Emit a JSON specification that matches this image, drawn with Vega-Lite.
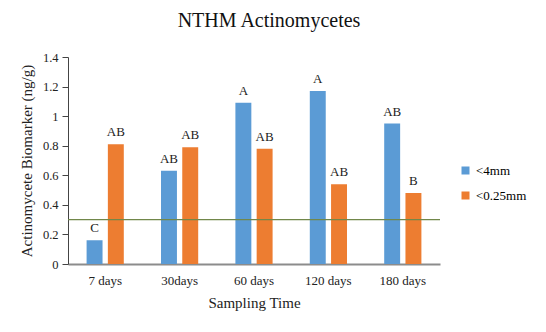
{
  "$schema": "https://vega.github.io/schema/vega-lite/v6.json",
  "width": 372,
  "height": 207,
  "autosize": {"type": "none"},
  "padding": {"left": 68, "top": 57, "right": 106, "bottom": 68},
  "background": "white",
  "config": {
    "font": "Liberation Serif",
    "view": {"stroke": null},
    "axis": {"labelFont": "Liberation Serif", "titleFont": "Liberation Serif", "labelColor": "#222", "titleColor": "#222", "titleFontWeight": "normal", "grid": false}
  },
  "title": {"text": "NTHM Actinomycetes", "fontSize": 20, "font": "Liberation Serif", "fontWeight": "normal", "color": "#111", "offset": 20, "anchor": "middle", "dx": 15},
  "data": {
    "values": [
      {"time": "7 days", "size": "<4mm", "value": 0.16, "sig": "C"},
      {"time": "7 days", "size": "<0.25mm", "value": 0.81, "sig": "AB"},
      {"time": "30days", "size": "<4mm", "value": 0.63, "sig": "AB"},
      {"time": "30days", "size": "<0.25mm", "value": 0.79, "sig": "AB"},
      {"time": "60 days", "size": "<4mm", "value": 1.09, "sig": "A"},
      {"time": "60 days", "size": "<0.25mm", "value": 0.78, "sig": "AB"},
      {"time": "120 days", "size": "<4mm", "value": 1.17, "sig": "A"},
      {"time": "120 days", "size": "<0.25mm", "value": 0.54, "sig": "AB"},
      {"time": "180 days", "size": "<4mm", "value": 0.95, "sig": "AB"},
      {"time": "180 days", "size": "<0.25mm", "value": 0.48, "sig": "B"}
    ]
  },
  "encoding": {
    "x": {"field": "time", "type": "nominal", "sort": null,
      "scale": {"paddingInner": 0.5, "paddingOuter": 0.25},
      "axis": {"title": "Sampling Time", "labelAngle": 0, "labelFontSize": 13, "titleFontSize": 15, "ticks": false, "labelPadding": 10, "titlePadding": 8, "domainColor": "#8c8c8c", "domainWidth": 2}},
    "xOffset": {"field": "size", "type": "nominal", "sort": ["<4mm", "<0.25mm"], "scale": {"paddingInner": 0.25}},
    "y": {"field": "value", "type": "quantitative", "scale": {"domain": [0, 1.4], "nice": false},
      "axis": {"title": "Actinomycete Biomarker (ng/g)", "values": [0, 0.2, 0.4, 0.6, 0.8, 1, 1.2, 1.4], "format": "~g", "labelOverlap": false, "labelFontSize": 12.5, "titleFontSize": 15, "tickSize": 6, "tickColor": "#444", "domainColor": "#444", "labelPadding": 4, "titlePadding": 8}}
  },
  "layer": [
    {
      "mark": {"type": "bar"},
      "encoding": {
        "color": {"field": "size", "type": "nominal", "sort": ["<4mm", "<0.25mm"],
          "scale": {"domain": ["<4mm", "<0.25mm"], "range": ["#5B9BD5", "#ED7D31"]},
          "legend": {"title": null, "orient": "none", "legendX": 391, "legendY": 107, "symbolType": "square", "symbolSize": 64, "symbolStrokeWidth": 0, "labelFontSize": 13, "labelFont": "Liberation Serif", "rowPadding": 11, "padding": 0}}
      }
    },
    {
      "mark": {"type": "text", "baseline": "bottom", "dy": -5, "fontSize": 13, "font": "Liberation Serif", "color": "#222"},
      "encoding": {
        "text": {"field": "sig"}
      }
    },
    {
      "data": {"values": [{"value": 0.3}]},
      "mark": {"type": "rule", "color": "#71874a", "strokeWidth": 1.2},
      "encoding": {"x": null, "xOffset": null}
    }
  ]
}
